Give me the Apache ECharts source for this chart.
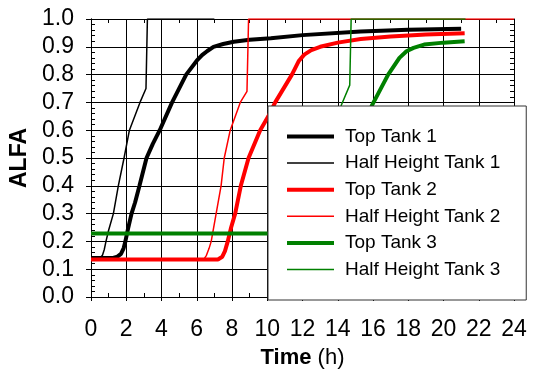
<!DOCTYPE html>
<html>
<head>
<meta charset="utf-8">
<script src="https://cdn.jsdelivr.net/npm/echarts@6/dist/echarts.min.js"></script>
<style>html,body{margin:0;padding:0;background:#fff}#c{width:536px;height:374px}</style>
</head>
<body>
<div id="c"></div>
<script>
// ---- data ----
var seriesNames = ['Top Tank 1','Half Height Tank 1','Top Tank 2','Half Height Tank 2','Top Tank 3','Half Height Tank 3'];
var xTicks = [0,2,4,6,8,10,12,14,16,18,20,22,24];
var yTicks = [0.0,0.1,0.2,0.3,0.4,0.5,0.6,0.7,0.8,0.9,1.0];

var top1T = [0,1.2,1.5,1.7,1.85,1.95,2.1,2.3,2.5,2.75,3.15,3.5,3.9,4.6,5.4,6.0,6.3,6.6,6.95,7.5,8.1,9,10.2,12,15.3,18,21];
var top1V = [0.14,0.14,0.145,0.155,0.175,0.2,0.245,0.3,0.34,0.4,0.5,0.55,0.6,0.7,0.8,0.85,0.87,0.885,0.9,0.91,0.918,0.925,0.931,0.942,0.955,0.961,0.965];

var half1T = [0,0.5,0.65,0.75,0.85,1.0,1.27,1.55,1.875,2.18,2.78,3.12,3.2,7.0];
var half1V = [0.14,0.14,0.15,0.17,0.2,0.24,0.3,0.4,0.5,0.6,0.7,0.75,1.0,1.0];

var top2T = [0,7.2,7.45,7.6,7.76,7.95,8.18,8.5,8.94,9.6,10.06,10.45,11.4,11.8,12.1,12.5,13.0,14,15.3,17,19,21.2];
var top2V = [0.135,0.135,0.145,0.165,0.2,0.25,0.3,0.4,0.5,0.6,0.65,0.7,0.8,0.85,0.872,0.888,0.9,0.915,0.928,0.937,0.944,0.949];

var half2T = [0,6.4,6.55,6.7,6.82,7.1,7.38,7.56,7.9,8.47,8.85,8.94,24];
var half2V = [0.135,0.135,0.15,0.175,0.2,0.3,0.4,0.5,0.6,0.7,0.74,1.0,1.0];

var top3T = [0,13.3,13.6,13.9,14.3,14.8,15.3,15.95,16.86,17.5,17.9,18.3,18.9,20,21.2];
var top3V = [0.228,0.228,0.25,0.3,0.4,0.5,0.6,0.69,0.8,0.86,0.884,0.896,0.908,0.915,0.92];

var half3T = [0,12.3,12.6,13.0,13.4,13.8,14.2,14.68,14.76,21.25];
var half3V = [0.228,0.228,0.26,0.35,0.45,0.57,0.69,0.762,1.0,1.0];

function zip(t, v) { return t.map(function (x, i) { return [x, v[i]]; }); }

var seriesData = [zip(top1T, top1V), zip(half1T, half1V), zip(top2T, top2V), zip(half2T, half2V), zip(top3T, top3V), zip(half3T, half3V)];
var colors = ['#000000','#000000','#ff0000','#ff0000','#008000','#008000'];
var widths = [4, 1.5, 4, 1.5, 4, 1.5];

var FONT = 'Liberation Sans';
var chart = echarts.init(document.getElementById('c'), null, {renderer: 'canvas'});

var gridCol = '#000';
function xAx(pos, opts) {
  return Object.assign({
    type: 'value', min: 0, max: 24, interval: 2, position: pos, gridIndex: 0,
    axisLine: {show: true, onZero: false, lineStyle: {color: '#000', width: 1}},
    axisTick: {show: false}, axisLabel: {show: false}, splitLine: {show: false}
  }, opts);
}
function yAx(pos, opts) {
  return Object.assign({
    type: 'value', min: 0, max: 1, interval: 0.1, position: pos, gridIndex: 0,
    axisLine: {show: true, onZero: false, lineStyle: {color: '#000', width: 1}},
    axisTick: {show: false}, axisLabel: {show: false}, splitLine: {show: false}
  }, opts);
}

var option = {
  animation: false,
  backgroundColor: '#fff',
  grid: {left: 91, right: 22, top: 19, bottom: 73, containLabel: false},
  xAxis: [
    xAx('bottom', {
      axisTick: {show: true, length: 4, lineStyle: {color: '#000'}},
      axisLabel: {show: true, fontSize: 23, fontFamily: FONT, color: '#000', margin: 21,
        formatter: function (v) { return xTicks.indexOf(v) >= 0 ? String(v) : ''; }},
      splitLine: {show: true, lineStyle: {color: gridCol, width: 1}},
      name: '{b|Time} (h)', nameLocation: 'middle', nameGap: 50,
      nameTextStyle: {fontSize: 22, fontFamily: FONT, color: '#000',
        rich: {b: {fontSize: 22, fontFamily: FONT, fontWeight: 'bold', color: '#000'}}}
    }),
    xAx('bottom', {axisTick: {show: false, inside: true}, minorTick: {show: true, splitNumber: 2, length: 4, lineStyle: {color: '#000'}}}),
    xAx('top', {axisTick: {show: false, inside: true}, minorTick: {show: true, splitNumber: 2, length: 4, lineStyle: {color: '#000'}}})
  ],
  yAxis: [
    yAx('left', {
      axisTick: {show: true, length: 5, lineStyle: {color: '#000'}},
      axisLabel: {show: true, fontSize: 23, fontFamily: FONT, color: '#000', margin: 17,
        formatter: function (v) { return v.toFixed(1); }},
      splitLine: {show: true, lineStyle: {color: gridCol, width: 1}},
      name: 'ALFA', nameLocation: 'middle', nameRotate: 90, nameGap: 54,
      nameTextStyle: {fontSize: 23, fontFamily: FONT, fontWeight: 'bold', color: '#000'}
    }),
    yAx('left', {axisTick: {show: false, inside: true}, minorTick: {show: true, splitNumber: 5, length: 4, lineStyle: {color: '#000'}}}),
    yAx('right', {axisTick: {show: false, inside: true}, minorTick: {show: true, splitNumber: 5, length: 4, lineStyle: {color: '#000'}}})
  ],
  legend: {
    orient: 'vertical', left: 268, top: 106,
    padding: [21, 26, 21, 17],
    itemWidth: 47, itemHeight: 16, itemGap: 7.6,
    backgroundColor: '#fff', borderColor: '#333', borderWidth: 1,
    lineStyle: {width: 'inherit'},
    itemStyle: {opacity: 0},
    textStyle: {fontSize: 19, fontFamily: FONT, color: '#000', padding: [0, 0, 0, 6]},
    data: seriesNames
  },
  series: seriesNames.map(function (n, i) {
    return {
      name: n, type: 'line', xAxisIndex: 0, yAxisIndex: 0,
      data: seriesData[i], symbol: 'none', showSymbol: false,
      lineStyle: {color: colors[i], width: widths[i]},
      itemStyle: {color: colors[i]},
      clip: true, z: 2 + i * 0.01
    };
  })
};
chart.setOption(option);
</script>
</body>
</html>
